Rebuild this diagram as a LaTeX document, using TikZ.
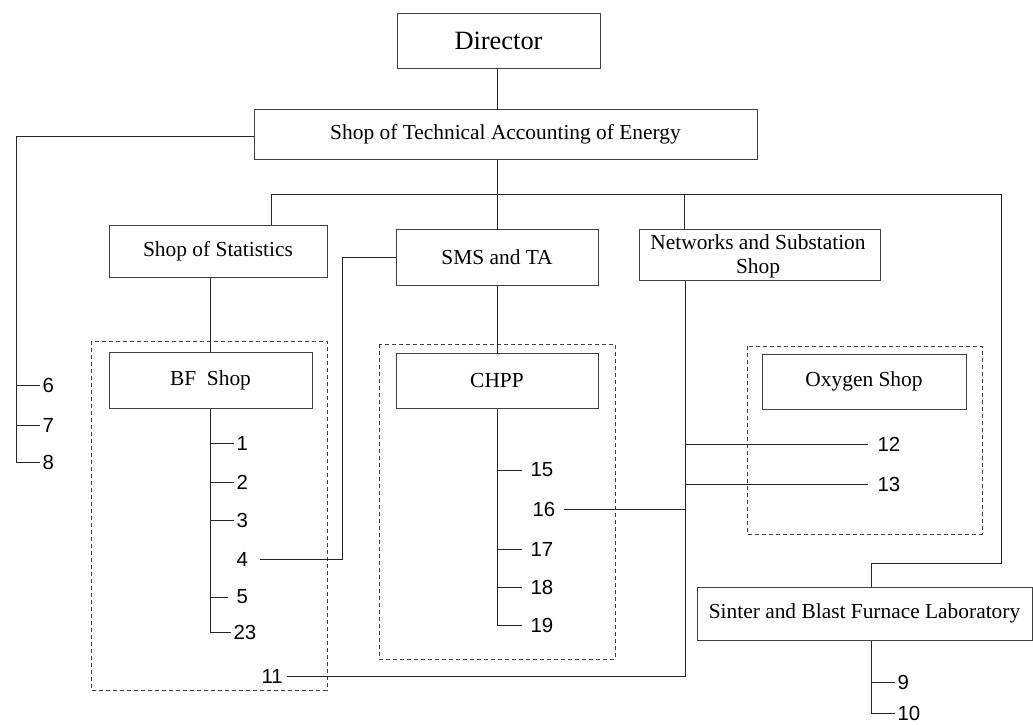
\documentclass[tikz,border=0pt]{standalone}
\usepackage{fontspec}
\setmainfont{Liberation Serif}
\newfontfamily\numfont{Liberation Sans}
\begin{document}
\begin{tikzpicture}[x=0.5pt,y=-0.5pt,
  line width=0.5pt,
  box/.style={draw=black!75, line width=0.5pt, inner sep=0pt, align=center, font=\fontsize{10.7pt}{12.5pt}\selectfont},
  grp/.style={draw=black!75, line width=0.5pt, dash pattern=on 2pt off 1.5pt},
  num/.style={inner xsep=1pt, inner ysep=0pt, font=\numfont\fontsize{10.2pt}{12pt}\selectfont},
  ln/.style={draw=black!85, line width=0.5pt}]
\useasboundingbox (0,0) rectangle (1033,724);

% dashed groups
\draw[grp] (91,341) rectangle (327,690);
\draw[grp] (379,344) rectangle (615,659);
\draw[grp] (747,346) rectangle (982,534);

% boxes
\node[box, minimum width=101.5pt, minimum height=27.5pt, font=\fontsize{13.2pt}{15pt}\selectfont] (dir) at (498.5,40.5) {Director};
\node[box, minimum width=251.5pt, minimum height=25pt] (ste) at (505.5,134) {Shop of Technical Accounting of Energy};
\node[box, minimum width=109pt, minimum height=26pt] (sos) at (218,251) {Shop of Statistics};
\node[box, minimum width=101pt, minimum height=28pt] (sms) at (497,257) {SMS and TA};
\node[box, minimum width=120.5pt, minimum height=25.5pt] (net) at (759.5,254.5) {};
\node[align=center, inner sep=0pt, font=\fontsize{10.7pt}{12.3pt}\selectfont] (nett) at (758,256.5) {Networks and Substation\\Shop};
\node[box, minimum width=101.5pt, minimum height=28pt] (bf) at (210.5,380) {BF~~Shop};
\node[box, minimum width=101pt, minimum height=27.5pt] (chpp) at (497,380.5) {CHPP};
\node[box, minimum width=102pt, minimum height=27.5pt] (oxy) at (864,381.5) {Oxygen Shop};
\node[box, minimum width=167.5pt, minimum height=26.5pt] (sin) at (864.5,613.5) {Sinter and Blast Furnace Laboratory};

% number labels
\node[num, anchor=west] (n6) at (40,385) {6};
\node[num, anchor=west] (n7) at (40,425) {7};
\node[num, anchor=west] (n8) at (40,462) {8};
\node[num, anchor=west] (n1) at (234,443) {1};
\node[num, anchor=west] (n2) at (234,482) {2};
\node[num, anchor=west] (n3) at (234,520) {3};
\node[num, anchor=west] (n4) at (234,559) {4};
\node[num, anchor=west] (n5) at (234,597) {5};
\node[num, anchor=west] (n23) at (231,632) {23};
\node[num, anchor=west] (n11) at (259,676) {11};
\node[num, anchor=west] (n15) at (528,470) {15};
\node[num, anchor=west] (n16) at (530,509) {16};
\node[num, anchor=west] (n17) at (528,549) {17};
\node[num, anchor=west] (n18) at (528,587) {18};
\node[num, anchor=west] (n19) at (528,625) {19};
\node[num, anchor=west] (n12) at (875,444) {12};
\node[num, anchor=west] (n13) at (875,484) {13};
\node[num, anchor=west] (n9) at (895,682) {9};
\node[num, anchor=west] (n10) at (895,713) {10};

% coordinates
\coordinate (busL) at (271,194);
\coordinate (busR) at (1001,194);
\coordinate (lft) at (16,136);
\coordinate (bfv) at (210,632);
\coordinate (chv) at (497,625);
\coordinate (nv) at (685,676);
\coordinate (sv) at (871,713);
\coordinate (smsk) at (342,257);

% connectors
\draw[ln] (dir.south -| 497,0) -- (ste.north -| 497,0);
\draw[ln] (ste.south -| 497,0) -- (sms.north -| 497,0);
\draw[ln] (sos.north -| busL) -- (busL) -- (busR) -- (1001,563) -- (871,563) -- (sin.north -| 871,0);
\draw[ln] (684,194) -- (net.north -| 684,0);
\draw[ln] (ste.west |- lft) -- (lft) -- (16,462);
\draw[ln] (16,385) -- (n6.west);
\draw[ln] (16,425) -- (n7.west);
\draw[ln] (16,462) -- (n8.west);

\draw[ln] (sos.south -| 210,0) -- (bf.north -| 210,0);
\draw[ln] (bf.south -| bfv) -- (bfv);
\draw[ln] (210,443) -- (n1.west);
\draw[ln] (210,482) -- (n2.west);
\draw[ln] (210,520) -- (n3.west);
\draw[ln] (210,597) -- ++(18,0);
\draw[ln] (bfv) -- (n23.west);

\draw[ln] (sms.west |- smsk) -- (smsk) -- (342,559) -- ([xshift=5pt]n4.east);

\draw[ln] (sms.south -| 497,0) -- (chpp.north -| 497,0);
\draw[ln] (chpp.south -| chv) -- (chv);
\draw[ln] (497,470) -- ++(25,0);
\draw[ln] (497,549) -- ++(25,0);
\draw[ln] (497,587) -- ++(25,0);
\draw[ln] (chv) -- ++(25,0);

\draw[ln] (net.south -| nv) -- (nv) -- ([xshift=1pt]n11.east);
\draw[ln] (685,444) -- (868,444);
\draw[ln] (685,484) -- (868,484);
\draw[ln] (685,509) -- ([xshift=3pt]n16.east);

\draw[ln] (sin.south -| sv) -- (sv);
\draw[ln] (871,682) -- (n9.west);
\draw[ln] (sv) -- (n10.west);
\end{tikzpicture}
\end{document}
